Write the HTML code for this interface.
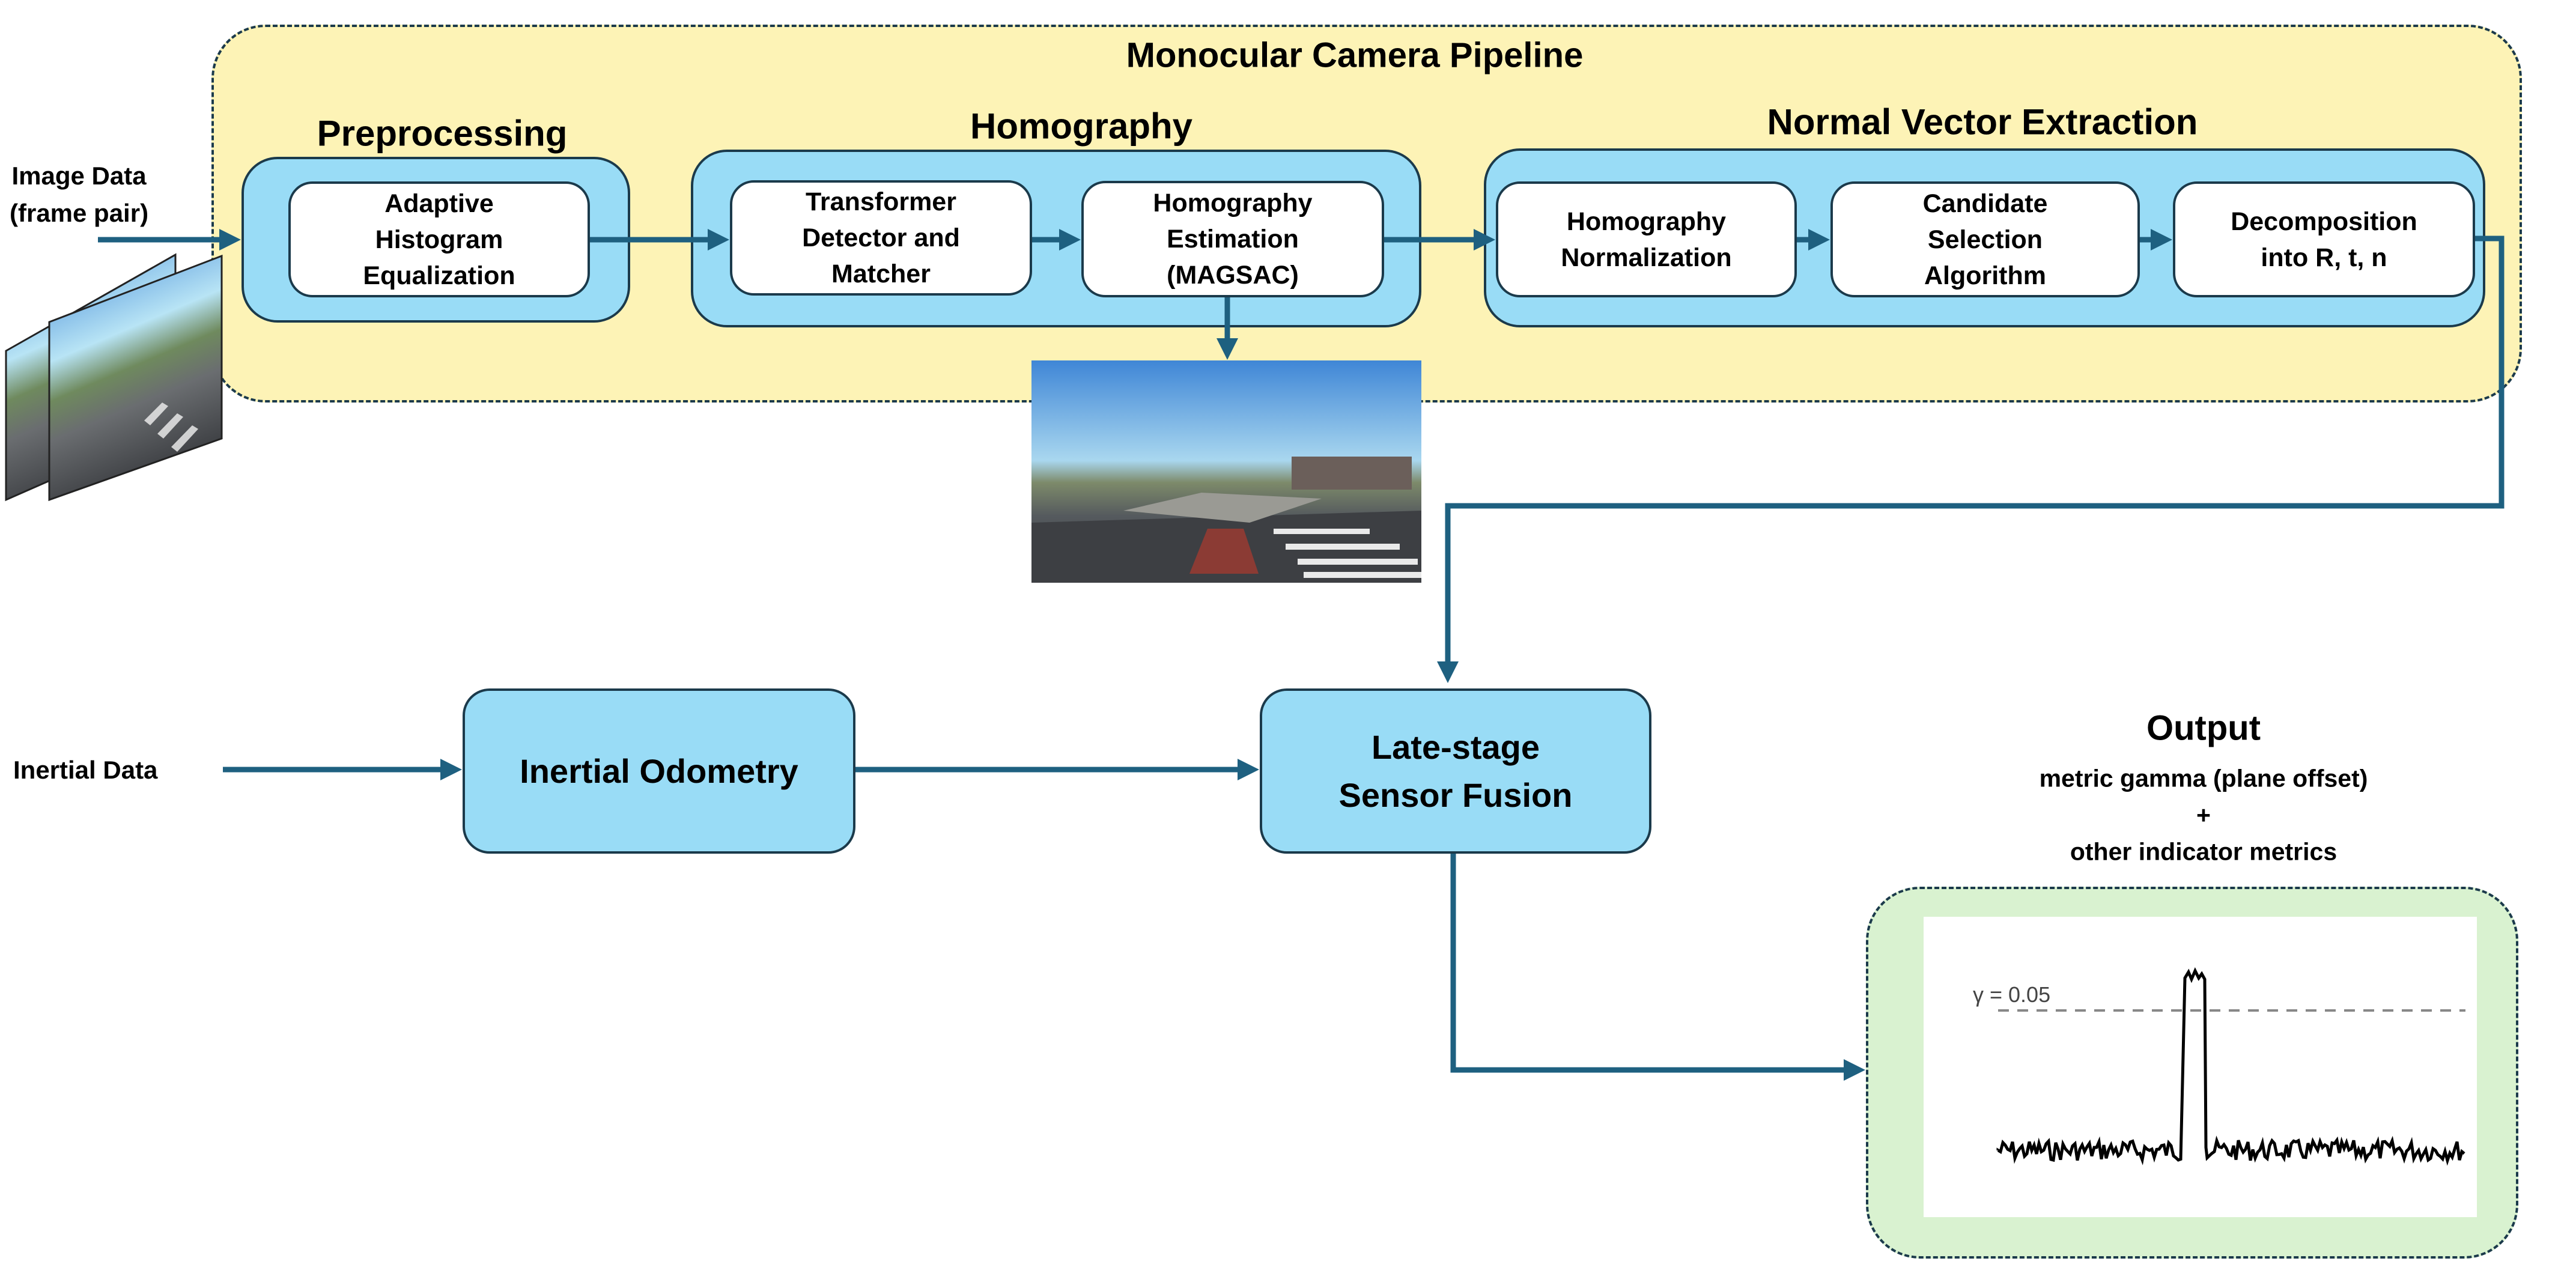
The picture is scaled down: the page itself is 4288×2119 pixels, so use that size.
<!DOCTYPE html>
<html><head><meta charset="utf-8">
<style>
*{margin:0;padding:0;box-sizing:border-box}
body{width:4288px;height:2119px;background:#fff;position:relative;overflow:hidden;font-family:"Liberation Sans",sans-serif;font-weight:bold;color:#000}
.abs{position:absolute}
.grp{position:absolute;background:#99dcf6;border:4px solid #1b3a4b;border-radius:60px}
.wb{position:absolute;background:#fff;border:4px solid #1b3a4b;border-radius:40px;display:flex;align-items:center;justify-content:center;text-align:center;font-size:43px;line-height:60px}
.lbl{position:absolute;text-align:center;transform:translate(-50%,-50%);white-space:nowrap}
.big{position:absolute;background:#99dcf6;border:4px solid #1b3a4b;border-radius:45px;display:flex;align-items:center;justify-content:center;text-align:center;font-size:56px;line-height:80px}
</style></head><body>

<div class="abs" style="left:352px;top:41px;width:3846px;height:629px;background:#fdf3b6;border:4px dashed #1b3a4b;border-radius:90px"></div>
<div class="lbl" style="left:2255px;top:92px;font-size:58px">Monocular Camera Pipeline</div>

<div class="lbl" style="left:736px;top:222px;font-size:60px">Preprocessing</div>
<div class="lbl" style="left:1800px;top:210px;font-size:60px">Homography</div>
<div class="lbl" style="left:3300px;top:203px;font-size:60px">Normal Vector Extraction</div>

<div class="grp" style="left:402px;top:261px;width:647px;height:276px"></div>
<div class="grp" style="left:1150px;top:249px;width:1216px;height:296px"></div>
<div class="grp" style="left:2470px;top:247px;width:1667px;height:298px"></div>

<div class="wb" style="left:480px;top:302px;width:502px;height:193px">Adaptive<br>Histogram<br>Equalization</div>
<div class="wb" style="left:1215px;top:300px;width:503px;height:192px">Transformer<br>Detector and<br>Matcher</div>
<div class="wb" style="left:1800px;top:301px;width:504px;height:194px">Homography<br>Estimation<br>(MAGSAC)</div>
<div class="wb" style="left:2490px;top:302px;width:501px;height:193px">Homography<br>Normalization</div>
<div class="wb" style="left:3047px;top:302px;width:515px;height:193px">Candidate<br>Selection<br>Algorithm</div>
<div class="wb" style="left:3617px;top:302px;width:503px;height:193px">Decomposition<br>into R, t, n</div>

<div class="abs" style="left:16px;top:262px;font-size:42px;line-height:62px;text-align:center">Image Data<br>(frame pair)</div>
<div class="abs" style="left:22px;top:1258px;font-size:42px">Inertial Data</div>

<div class="big" style="left:770px;top:1146px;width:654px;height:275px">Inertial Odometry</div>
<div class="big" style="left:2097px;top:1146px;width:652px;height:275px">Late-stage<br>Sensor Fusion</div>

<div class="lbl" style="left:3668px;top:1212px;font-size:58px">Output</div>
<div class="lbl" style="left:3668px;top:1296px;font-size:41px">metric gamma (plane offset)</div>
<div class="lbl" style="left:3668px;top:1357px;font-size:41px">+</div>
<div class="lbl" style="left:3668px;top:1418px;font-size:41px">other indicator metrics</div>

<div class="abs" style="left:3106px;top:1476px;width:1086px;height:619px;background:#d9f2d0;border:4px dashed #1b3a4b;border-radius:90px"></div>
<div class="abs" style="left:3202px;top:1526px;width:921px;height:500px;background:#fff"></div>

<svg class="abs" style="left:0;top:0" width="4288" height="2119" viewBox="0 0 4288 2119">
<defs>
<marker id="ar" markerWidth="4" markerHeight="4" refX="3" refY="2" orient="auto" markerUnits="strokeWidth"><path d="M0,0 L4,2 L0,4 z" fill="#1e6080"/></marker>
<linearGradient id="sky" x1="0" y1="0" x2="0" y2="1">
<stop offset="0" stop-color="#3f86d6"/><stop offset="0.45" stop-color="#a9d7ef"/><stop offset="0.55" stop-color="#7d8a6a"/><stop offset="0.7" stop-color="#555a5e"/><stop offset="1" stop-color="#3a3c40"/></linearGradient>
<linearGradient id="fr" x1="0" y1="0" x2="0.3" y2="1">
<stop offset="0" stop-color="#3f86d6"/><stop offset="0.4" stop-color="#b8e4f5"/><stop offset="0.55" stop-color="#6f8a5e"/><stop offset="0.7" stop-color="#6a6d70"/><stop offset="1" stop-color="#3a3c40"/></linearGradient>
</defs>
<g stroke="#1e6080" stroke-width="9" fill="none">
<line x1="163" y1="399" x2="392" y2="399" marker-end="url(#ar)"/>
<line x1="982" y1="399" x2="1205" y2="399" marker-end="url(#ar)"/>
<line x1="1718" y1="399" x2="1790" y2="399" marker-end="url(#ar)"/>
<line x1="2304" y1="399" x2="2480" y2="399" marker-end="url(#ar)"/>
<line x1="2991" y1="399" x2="3037" y2="399" marker-end="url(#ar)"/>
<line x1="3562" y1="399" x2="3607" y2="399" marker-end="url(#ar)"/>
<polyline points="4120,397 4164,397 4164,842 2410,842 2410,1128" marker-end="url(#ar)"/>
<line x1="2043" y1="495" x2="2043" y2="590" marker-end="url(#ar)"/>
<line x1="371" y1="1281" x2="760" y2="1281" marker-end="url(#ar)"/>
<line x1="1424" y1="1281" x2="2087" y2="1281" marker-end="url(#ar)"/>
<polyline points="2419,1421 2419,1781 3096,1781" marker-end="url(#ar)"/>
</g>
<polygon points="10,584 292,424 292,708 10,832" fill="url(#fr)" stroke="#222" stroke-width="3"/>
<polygon points="82,536 369,426 369,730 82,832" fill="url(#fr)" stroke="#222" stroke-width="3"/>
<g fill="#e8e8e8" opacity="0.85">
<polygon points="240,700 270,670 280,676 250,708"/><polygon points="262,722 295,688 305,694 272,730"/><polygon points="285,744 320,708 330,714 295,752"/>
</g>
<rect x="1717" y="600" width="649" height="370" fill="url(#sky)"/>
<rect x="2150" y="760" width="200" height="55" fill="#6b5f5a"/>
<polygon points="1717,870 2366,850 2366,970 1717,970" fill="#3d3f43"/>
<polygon points="1870,850 2000,820 2200,830 2080,870" fill="#9a9a94"/>
<g fill="#e9e9e9"><rect x="2120" y="880" width="160" height="9"/><rect x="2140" y="905" width="190" height="10"/><rect x="2160" y="930" width="200" height="10"/><rect x="2170" y="952" width="196" height="10"/></g>
<polygon points="2010,880 2070,880 2095,955 1980,955" fill="#c0392b" opacity="0.6"/>
<line x1="3326" y1="1682" x2="4104" y2="1682" stroke="#888" stroke-width="4" stroke-dasharray="18,14"/>
<text x="3284" y="1668" font-family="Liberation Sans, sans-serif" font-weight="normal" font-size="36" fill="#444">γ = 0.05</text>
<path id="noise" fill="none" stroke="#000" stroke-width="5" d=""/>
</svg>
<script>
var s=7,d="",x;function r(){s=(s*9301+49297)%233280;return s/233280;}
d="M3326,1915";for(x=3326;x<=3632;x+=4){d+=" L"+x+","+(1915+(r()-0.5)*34).toFixed(1);}
d+=" L3637,1628 L3643,1618 L3648,1630 L3654,1616 L3660,1628 L3665,1621 L3670,1630 L3672,1910";
for(x=3674;x<=4104;x+=4){d+=" L"+x+","+(1915+(r()-0.5)*34).toFixed(1);}
document.getElementById("noise").setAttribute("d",d);
</script>
</body></html>
